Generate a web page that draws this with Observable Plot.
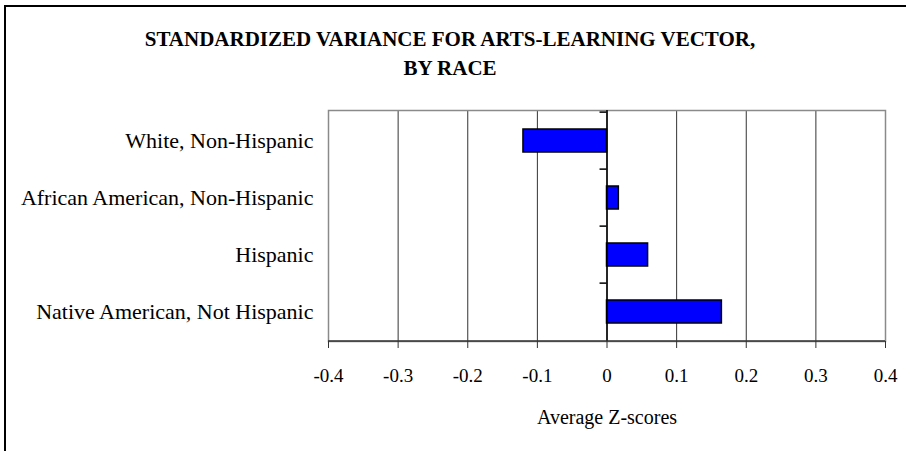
<!DOCTYPE html>
<html>
<head>
<meta charset="utf-8">
<script src="https://cdn.jsdelivr.net/npm/d3@7"></script>
<script src="https://cdn.jsdelivr.net/npm/@observablehq/plot@0.6"></script>
<style>
  html, body { margin: 0; padding: 0; background: #fff; }
  #wrap { position: relative; width: 906px; height: 451px; overflow: hidden; font-family: "Liberation Serif", serif; }
  #border { position: absolute; left: 4px; top: 5px; right: -10px; bottom: -10px; border-left: 2px solid #000; border-top: 2px solid #000; }
  #title { position: relative; width: 900px; height: 90px; box-sizing: border-box; padding-top: 25px; text-align: center; font-weight: bold; font-size: 21px; line-height: 29px; color: #000; }
  #chart svg { display: block; overflow: visible; }
</style>
</head>
<body>
<div id="wrap">
  <div id="border"></div>
  <div id="title">STANDARDIZED VARIANCE FOR ARTS-LEARNING VECTOR,<br>BY RACE</div>
  <div id="chart"></div>
</div>
<script>
const categories = [
  "White, Non-Hispanic",
  "African American, Non-Hispanic",
  "Hispanic",
  "Native American, Not Hispanic"
];
const values = [-0.12, 0.017, 0.059, 0.165];
const xTicks = [-0.4, -0.3, -0.2, -0.1, 0, 0.1, 0.2, 0.3, 0.4];
const xLabel = "Average Z-scores";

const data = categories.map((c, i) => ({category: c, value: values[i]}));

const W = 906, H = 361;
const mTop = 20, mBottom = 110, mLeft = 328, mRight = 21;
const step = (H - mTop - mBottom) / categories.length;
const font = "Liberation Serif";

const chart = Plot.plot({
  width: W,
  height: H,
  marginTop: mTop,
  marginBottom: mBottom,
  marginLeft: mLeft,
  marginRight: mRight,
  style: {fontFamily: font, color: "#000", background: "#fff", overflow: "visible"},
  x: {domain: [xTicks[0], xTicks[xTicks.length - 1]]},
  y: {domain: categories, padding: 0},
  marks: [
    Plot.gridX(xTicks, {stroke: "#333", strokeOpacity: 1, strokeWidth: 1}),
    Plot.frame({stroke: "#8a8a8a", strokeWidth: 1.5}),
    Plot.barX(data, {x1: 0, x2: "value", y: "category", fill: "#0000ff", stroke: "#000", strokeWidth: 1.5, insetTop: 17, insetBottom: 17}),
    Plot.ruleX([0], {stroke: "#000", strokeWidth: 1.5}),
    Plot.ruleY(categories, {y: d => d, x1: -0.01, x2: 0, stroke: "#000", strokeWidth: 1.5, dy: -step / 2}),
    Plot.ruleY([categories[categories.length - 1]], {y: d => d, x1: xTicks[0], x2: xTicks[xTicks.length - 1], stroke: "#333", strokeWidth: 1.5, dy: step / 2}),
    Plot.axisX(xTicks, {anchor: "bottom", tickSize: 7, tickPadding: 20, tickFormat: d => String(d), fontSize: 19, label: null, stroke: "#333"}),
    Plot.axisY({anchor: "left", tickSize: 0, tickPadding: 15, fontSize: 22, label: null}),
    Plot.text([xLabel], {frameAnchor: "bottom", text: d => d, dy: 82, fontSize: 20, lineAnchor: "bottom"})
  ]
});
document.getElementById("chart").appendChild(chart);
</script>
</body>
</html>
